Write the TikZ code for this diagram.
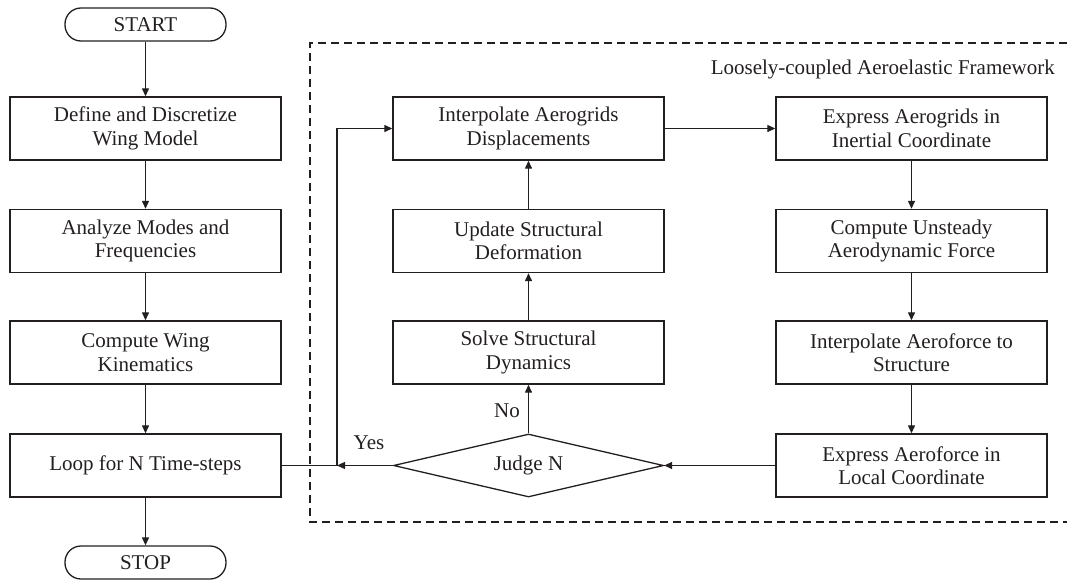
\documentclass[tikz,border=0pt]{standalone}
\usepackage{fontspec}
\setmainfont{Liberation Serif}
\usetikzlibrary{arrows.meta,shapes.geometric}
\definecolor{lc}{HTML}{231F20}
\begin{document}
\begin{tikzpicture}[x=1pt,y=-1pt,
  txt/.style={font=\fontsize{21}{23.5}\selectfont,text=lc},
  box/.style={txt,draw=lc,line width=1.4pt,minimum width=271pt,minimum height=63pt,align=center,inner sep=0pt},
  term/.style={txt,draw=lc,line width=1.3pt,minimum width=161pt,minimum height=33pt,rounded corners=16pt,inner sep=0pt},
  dec/.style={txt,draw=lc,line width=1.3pt,diamond,aspect=4.3,minimum width=270pt,minimum height=63pt,inner sep=0pt},
  lbl/.style={txt,inner sep=0pt},
  arr/.style={draw=lc,line width=1.3pt,-{Triangle[length=8pt,width=7pt]}},
  ln/.style={draw=lc,line width=1.3pt},
  frame/.style={draw=lc,line width=1.2pt,dash pattern=on 8pt off 5pt}]
\useasboundingbox (0,0) rectangle (1067,581);
% frame
\draw[frame] (1067,43) -- (310,43) -- (310,522) -- (1067,522);
\node[lbl,anchor=base east] (fw) at (1055,74) {Loosely-coupled Aeroelastic Framework};
% left column
\node[term] (start) at (145.5,24.5) {START};
\node[box] (define) at (145.5,128.5) {Define and Discretize\\Wing Model};
\node[box] (analyze) at (145.5,241) {Analyze Modes and\\Frequencies};
\node[box] (kin) at (145.5,352.5) {Compute Wing\\Kinematics};
\node[box] (loop) at (145.5,465.5) {Loop for N Time-steps};
\node[term] (stop) at (145.5,562.5) {STOP};
% middle column
\node[box] (interp) at (528.5,128.5) {Interpolate Aerogrids\\Displacements};
\node[box] (update) at (528.5,241) {Update Structural\\Deformation};
\node[box] (solve) at (528.5,352.5) {Solve Structural\\Dynamics};
\node[dec] (judge) at (528.5,465.5) {Judge N};
% right column
\node[box] (inert) at (911.5,128.5) {Express Aerogrids in\\Inertial Coordinate};
\node[box] (unst) at (911.5,241) {Compute Unsteady\\Aerodynamic Force};
\node[box] (toStr) at (911.5,352.5) {Interpolate Aeroforce to\\Structure};
\node[box] (local) at (911.5,465.5) {Express Aeroforce in\\Local Coordinate};
% junction
\coordinate (J) at (337,465.5);
\coordinate (K) at (337,128.5);
% connectors
\draw[arr] (start) -- (define);
\draw[arr] (define) -- (analyze);
\draw[arr] (analyze) -- (kin);
\draw[arr] (kin) -- (loop);
\draw[arr] (loop) -- (stop);
\draw[ln] (loop.east) -- (J);
\draw[arr] (judge.west) -- (J);
\draw[arr] (J) -- (K) -- (interp.west);
\draw[arr] (interp.east) -- (inert.west);
\draw[arr] (inert) -- (unst);
\draw[arr] (unst) -- (toStr);
\draw[arr] (toStr) -- (local);
\draw[arr] (local.west) -- (judge.east);
\draw[arr] (judge.north) -- (solve.south);
\draw[arr] (solve) -- (update);
\draw[arr] (update) -- (interp);
% labels
\node[lbl] (yes) at (369,443) {Yes};
\node[lbl] (no) at (507,411) {No};
\end{tikzpicture}
\end{document}
